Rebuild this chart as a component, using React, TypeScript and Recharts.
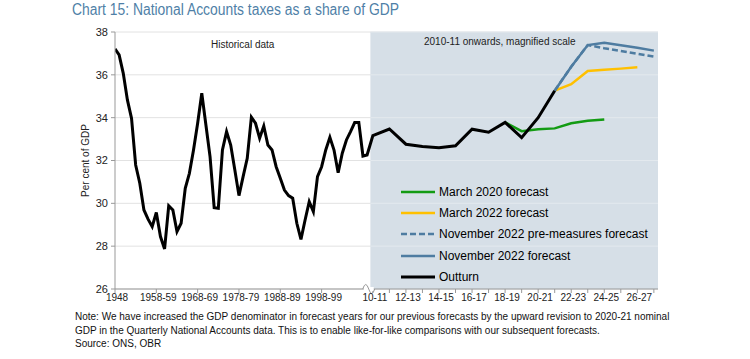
import React from "react";
import {
  LineChart,
  Line,
  XAxis,
  YAxis,
  CartesianGrid,
  ReferenceArea,
  ReferenceLine,
  ReferenceDot,
} from "recharts";

// historical outturn, 1948 to 2009-10 (per cent of GDP)
const HIST_VALUES = [
  37.21, 36.93, 36.07, 34.83, 33.97, 31.79, 30.94, 29.69, 29.26, 28.91,
  29.57, 28.45, 27.87, 29.88, 29.69, 28.68, 29.07, 30.7, 31.4, 32.49,
  33.74, 35.14, 33.66, 32.18, 29.8, 29.77, 32.49, 33.35, 32.72, 31.56,
  30.36, 31.25, 32.1, 34.02, 33.74, 33.04, 33.61, 32.72, 32.49, 31.71,
  31.17, 30.62, 30.36, 30.24, 29.07, 28.32, 29.22, 30.08, 29.61, 31.25,
  31.71, 32.49, 33.08, 32.49, 31.43, 32.34, 32.96, 33.35, 33.77, 33.77,
  32.21, 32.26,
];
const HIST_TICK_LABELS = ["1948", "1958-59", "1968-69", "1978-79", "1988-89", "1998-99"];

// magnified part, 2010-11 onwards
const MAG_LABELS = [
  "10-11", "11-12", "12-13", "13-14", "14-15", "15-16", "16-17", "17-18", "18-19",
  "19-20", "20-21", "21-22", "22-23", "23-24", "24-25", "25-26", "26-27", "27-28",
];
const OUTTURN_RECENT = [
  33.16, 33.47, 32.76, 32.65, 32.6, 32.69, 33.46, 33.32, 33.78, 33.07, 34.0, 35.26,
];
const MARCH_2020 = [
  null, null, null, null, null, null, null, null, 33.78, 33.37, 33.46, 33.5, 33.74,
  33.86, 33.92, null, null, null,
];
const MARCH_2022 = [
  null, null, null, null, null, null, null, null, null, null, null, 35.26, 35.56,
  36.18, 36.24, 36.29, 36.35, null,
];
const NOV_2022_PRE = [
  null, null, null, null, null, null, null, null, null, null, null, 35.26, 36.38,
  37.39, 37.24, 37.11, 36.98, 36.85,
];
const NOV_2022 = [
  null, null, null, null, null, null, null, null, null, null, null, 35.26, 36.38,
  37.39, 37.5, 37.38, 37.26, 37.13,
];

const Y_TICKS = [26, 28, 30, 32, 34, 36, 38];

// x scale: a historical year is a quarter of a magnified year
const HIST_STEP = 0.25;
const MAG_OFFSET = 15.6;
const SHADE_START = 15.45;
const X_MAX = 32.85;

const FONT = '"Liberation Sans", Arial, sans-serif';

const SERIES = [
  { key: "march2020", name: "March 2020 forecast", color: "#139b13", dash: undefined, width: 2.5 },
  { key: "march2022", name: "March 2022 forecast", color: "#ffc000", dash: undefined, width: 2.5 },
  { key: "novPre", name: "November 2022 pre-measures forecast", color: "#4e7ca1", dash: "6 3", width: 2.5 },
  { key: "nov", name: "November 2022 forecast", color: "#4e7ca1", dash: undefined, width: 2.5 },
  { key: "outturn", name: "Outturn", color: "#000000", dash: undefined, width: 3 },
];

const rows = [
  ...HIST_VALUES.map((v, i) => ({ x: i * HIST_STEP, outturn: v })),
  ...MAG_LABELS.map((_, j) => ({
    x: MAG_OFFSET + j,
    outturn: j < OUTTURN_RECENT.length ? OUTTURN_RECENT[j] : null,
    march2020: MARCH_2020[j],
    march2022: MARCH_2022[j],
    novPre: NOV_2022_PRE[j],
    nov: NOV_2022[j],
  })),
];

const tickLabels = new Map<number, string>();
HIST_TICK_LABELS.forEach((lab, k) => tickLabels.set(k * 10 * HIST_STEP, lab));
MAG_LABELS.forEach((lab, j) => tickLabels.set(MAG_OFFSET + j, j % 2 === 0 ? lab : ""));
const xTicks = Array.from(tickLabels.keys());

// small wavy break drawn on the x axis
const AxisBreak = (props: { cx?: number; cy?: number }) => {
  const cx = props.cx ?? 0;
  const cy = props.cy ?? 0;
  return (
    <g>
      <rect x={cx - 5} y={cy - 2} width={10} height={4} fill="#fff" />
      <path
        d={`M${cx - 6},${cy} Q${cx - 3},${cy - 9} ${cx},${cy} T${cx + 6},${cy}`}
        fill="none"
        stroke="#999"
        strokeWidth={1}
      />
    </g>
  );
};

export default function App() {
  return (
    <div
      style={{
        position: "absolute",
        left: 0,
        top: 0,
        width: 750,
        height: 359,
        background: "#fff",
        fontFamily: FONT,
      }}
    >
      <svg width={750} height={24} style={{ position: "absolute", left: 0, top: 0 }}>
        <text
          x={72}
          y={15}
          fontSize={16}
          fill="#4f7fa7"
          fontFamily={FONT}
          textLength={327}
          lengthAdjust="spacingAndGlyphs"
        >
          Chart 15: National Accounts taxes as a share of GDP
        </text>
      </svg>

      <div style={{ position: "absolute", left: 0, top: 0 }}>
        <LineChart
          width={750}
          height={359}
          data={rows}
          margin={{ top: 32, right: 92, bottom: 50, left: 80 }}
        >
          <CartesianGrid vertical={false} stroke="#e2e2e2" />
          <ReferenceArea
            x1={SHADE_START}
            x2={X_MAX}
            y1={26}
            y2={38}
            fill="#d6dfe7"
            fillOpacity={1}
            stroke="none"
          />
          {Y_TICKS.slice(1).map((t) => (
            <ReferenceLine
              key={t}
              segment={[
                { x: SHADE_START, y: t },
                { x: X_MAX, y: t },
              ]}
              stroke="#e3e9ee"
              strokeWidth={1}
            />
          ))}
          <XAxis
            type="number"
            dataKey="x"
            domain={[0, X_MAX]}
            ticks={xTicks}
            interval={0}
            tickFormatter={(v: number) => tickLabels.get(v) ?? ""}
            tick={{ fontSize: 10, fill: "#222", fontFamily: FONT, dx: 2 }}
            tickSize={4}
            tickMargin={1}
            stroke="#999"
            height={20}
            allowDataOverflow
          />
          <YAxis
            type="number"
            domain={[26, 38]}
            ticks={Y_TICKS}
            interval={0}
            tick={{ fontSize: 11, fill: "#222", fontFamily: FONT }}
            tickSize={4}
            tickMargin={3}
            stroke="#999"
            width={35}
            label={{
              value: "Per cent of GDP",
              angle: -90,
              position: "insideLeft",
              offset: 5,
              style: { textAnchor: "middle", fontSize: 10, fill: "#222", fontFamily: FONT },
            }}
          />
          {SERIES.map((s) => (
            <Line
              key={s.key}
              type="linear"
              dataKey={s.key}
              name={s.name}
              stroke={s.color}
              strokeWidth={s.width}
              strokeDasharray={s.dash}
              dot={false}
              activeDot={false}
              connectNulls={false}
              isAnimationActive={false}
            />
          ))}
          <ReferenceDot x={15.35} y={26} r={0} shape={AxisBreak} />
        </LineChart>
      </div>

      {/* legend inside the shaded panel */}
      <div
        style={{
          position: "absolute",
          left: 400,
          top: 181,
          fontSize: 12,
          color: "#000",
        }}
      >
        {SERIES.map((s) => (
          <div key={s.key} style={{ display: "flex", alignItems: "center", height: 21.3 }}>
            <svg width={36} height={10} style={{ marginRight: 3 }}>
              <line
                x1={1}
                y1={5}
                x2={35}
                y2={5}
                stroke={s.color}
                strokeWidth={s.width}
                strokeDasharray={s.dash}
              />
            </svg>
            <span>{s.name}</span>
          </div>
        ))}
      </div>

      <div style={{ position: "absolute", left: 211, top: 39, fontSize: 10, color: "#222" }}>
        Historical data
      </div>
      <div style={{ position: "absolute", left: 424, top: 36, fontSize: 10, color: "#222" }}>
        2010-11 onwards, magnified scale
      </div>

      <div
        style={{
          position: "absolute",
          left: 75,
          top: 310,
          fontSize: 10,
          lineHeight: "13.5px",
          color: "#111",
          whiteSpace: "nowrap",
        }}
      >
        <div>
          Note: We have increased the GDP denominator in forecast years for our previous forecasts by the upward revision to 2020-21 nominal
        </div>
        <div>
          GDP in the Quarterly National Accounts data. This is to enable like-for-like comparisons with our subsequent forecasts.
        </div>
        <div>Source: ONS, OBR</div>
      </div>
    </div>
  );
}
